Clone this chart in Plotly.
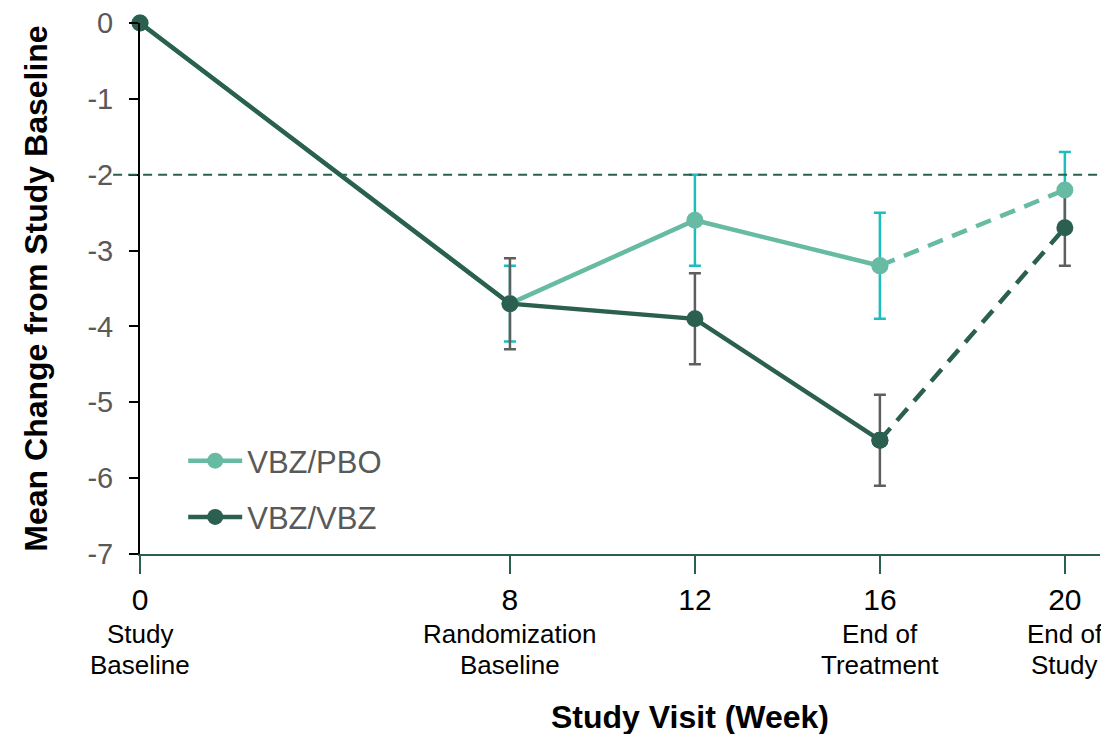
import plotly.graph_objects as go

# Study visits (weeks) and their descriptive labels
weeks = [0, 8, 12, 16, 20]
visit_labels = ["Study<br>Baseline", "Randomization<br>Baseline", "End of<br>Treatment", "End of<br>Study"]
visit_label_weeks = [0, 8, 16, 20]
y_ticks = [0, -1, -2, -3, -4, -5, -6, -7]

# Mean change from study baseline and error (+/-)
pbo_mean = [0, -3.7, -2.6, -3.2, -2.2]
pbo_err = [0, 0.5, 0.6, 0.7, 0.5]
vbz_mean = [0, -3.7, -3.9, -5.5, -2.7]
vbz_err = [0, 0.6, 0.6, 0.6, 0.5]

reference_level = -2

LIGHT = "#67BBA2"
DARK = "#2B5F4F"
LIGHT_ERR = "#1CBDBD"
DARK_ERR = "#5E5E5E"
FONT = "Liberation Sans, Arial, sans-serif"

fig = go.Figure()

# error bars (drawn first so the markers sit on top)
for mean, err, col in [(pbo_mean, pbo_err, LIGHT_ERR), (vbz_mean, vbz_err, DARK_ERR)]:
    fig.add_trace(go.Scatter(
        x=weeks[1:], y=mean[1:], mode="markers",
        marker=dict(size=1, opacity=0),
        error_y=dict(type="data", array=err[1:], color=col, thickness=2.5, width=6),
        showlegend=False, hoverinfo="skip", cliponaxis=False,
    ))

for name, mean, col in [("VBZ/PBO", pbo_mean, LIGHT), ("VBZ/VBZ", vbz_mean, DARK)]:
    # solid segment through end of treatment
    fig.add_trace(go.Scatter(
        x=weeks[:4], y=mean[:4], mode="lines+markers", name=name,
        legendgroup=name,
        line=dict(color=col, width=4.5),
        marker=dict(color=col, size=17),
        cliponaxis=False,
    ))
    # follow-up segment to end of study
    fig.add_trace(go.Scatter(
        x=weeks[3:], y=mean[3:], mode="lines+markers", name=name,
        legendgroup=name, showlegend=False,
        line=dict(color=col, width=4.5, dash="16px,10px"),
        marker=dict(color=col, size=17),
        cliponaxis=False,
    ))

# dashed reference line
fig.add_shape(type="line", xref="paper", yref="y", x0=-0.028, x1=1,
              y0=reference_level, y1=reference_level,
              line=dict(color=DARK, width=2, dash="9px,6px"))

# visit description labels beneath the week numbers
for wk, lab in zip(visit_label_weeks, visit_labels):
    for i, line in enumerate(lab.split("<br>")):
        fig.add_annotation(x=wk, xref="x", y=-0.150 - i * 0.0584, yref="paper",
                           text=line, showarrow=False, yanchor="middle",
                           font=dict(family=FONT, size=26, color="#000000"))

# x-axis title
fig.add_annotation(x=0.573, xref="paper", y=-0.307, yref="paper",
                   text="<b>Study Visit (Week)</b>", showarrow=False,
                   xanchor="center", yanchor="middle",
                   font=dict(family=FONT, size=32, color="#000000"))

fig.update_layout(
    width=1101, height=734,
    margin=dict(l=140, r=1, t=23, b=180),
    plot_bgcolor="white", paper_bgcolor="white",
    font=dict(family=FONT),
    showlegend=True,
    legend=dict(x=0.045, y=0.226, xanchor="left", yanchor="top",
                traceorder="grouped", tracegroupgap=13, itemwidth=54,
                font=dict(family=FONT, size=31, color="#595959"),
                bgcolor="rgba(0,0,0,0)"),
    xaxis=dict(range=[0, 20.76], tickvals=weeks, ticktext=[str(w) for w in weeks],
               showgrid=False, zeroline=False,
               showline=True, linecolor=DARK, linewidth=2,
               ticks="outside", ticklen=18, tickwidth=2, tickcolor=DARK,
               tickfont=dict(family=FONT, size=30, color="#000000")),
    yaxis=dict(range=[-7, 0], tickvals=y_ticks, ticktext=[str(v) for v in y_ticks],
               showgrid=False, zeroline=False,
               showline=True, linecolor="#000000", linewidth=2,
               ticks="outside", ticklen=9, tickwidth=2, tickcolor="#000000",
               ticklabelstandoff=10,
               tickfont=dict(family=FONT, size=29, color="#595959"),
               title=dict(text="<b>Mean Change from Study Baseline</b>", standoff=30,
                          font=dict(family=FONT, size=32, color="#000000"))),
)

fig.write_html("out.html")
